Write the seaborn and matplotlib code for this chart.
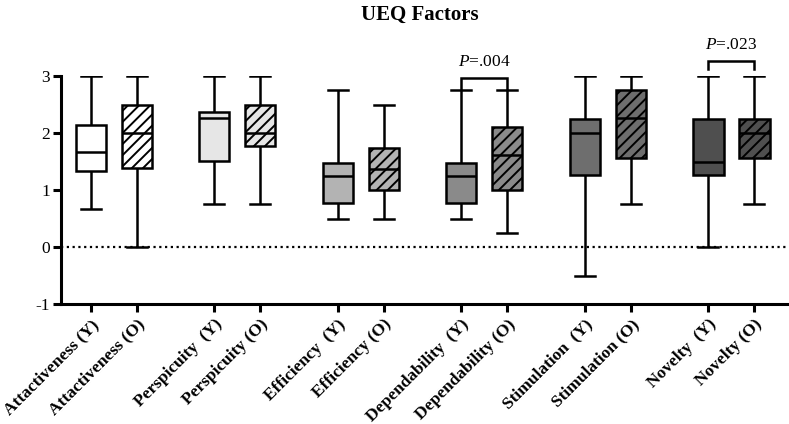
import numpy as np
import pandas as pd
import matplotlib
matplotlib.use("Agg")
import matplotlib.pyplot as plt
import seaborn as sns

# ---- data ----
labels = ["Attactiveness (Y)", "Attactiveness (O)",
          "Perspicuity  (Y)", "Perspicuity (O)",
          "Efficiency  (Y)", "Efficiency (O)",
          "Dependability  (Y)", "Dependability (O)",
          "Stimulation  (Y)", "Stimulation (O)",
          "Novelty  (Y)", "Novelty (O)"]
mins    = [0.66, 0.00, 0.75, 0.75, 0.50, 0.50, 0.50, 0.25, -0.50, 0.75, 0.00, 0.75]
q1s     = [1.34, 1.38, 1.51, 1.77, 0.77, 1.00, 0.77, 1.00, 1.26, 1.57, 1.26, 1.57]
medians = [1.66, 2.00, 2.26, 2.00, 1.25, 1.37, 1.25, 1.62, 2.00, 2.26, 1.49, 2.00]
q3s     = [2.14, 2.49, 2.36, 2.49, 1.48, 1.73, 1.48, 2.11, 2.24, 2.75, 2.24, 2.24]
maxs    = [3.00, 3.00, 3.00, 3.00, 2.75, 2.50, 2.75, 2.75, 3.00, 3.00, 3.00, 3.00]
fills   = ["#ffffff", "#ffffff", "#e6e6e6", "#e6e6e6", "#b3b3b3", "#b3b3b3",
           "#8a8a8a", "#8a8a8a", "#6e6e6e", "#6e6e6e", "#4f4f4f", "#4f4f4f"]
# significance annotations: (box index a, box index b, text)
sig_pairs = [(6, 7, ".004"), (10, 11, ".023")]

# ---- layout ----
group_step = 2.686
positions = [(i // 2) * group_step + (i % 2) for i in range(len(labels))]

rows = []
for i, lab in enumerate(labels):
    for v in (mins[i], q1s[i], medians[i], q3s[i], maxs[i]):
        rows.append({"pos": positions[i], "value": v, "label": lab})
df = pd.DataFrame(rows)

plt.rcParams["font.family"] = ["Liberation Serif", "DejaVu Serif"]
plt.rcParams["mathtext.fontset"] = "custom"
plt.rcParams["mathtext.rm"] = "Liberation Serif"
plt.rcParams["mathtext.it"] = "Liberation Serif:italic"
plt.rcParams["hatch.linewidth"] = 1.4

fig = plt.figure(figsize=(7.89, 4.24), dpi=100)
ax = fig.add_axes([61 / 789, 1 - 304 / 424, (787 - 61) / 789, (304 - 76) / 424])

sns.boxplot(data=df, x="pos", y="value", hue="label", hue_order=labels,
            palette=dict(zip(labels, fills)), saturation=1, native_scale=True,
            dodge=False, width=0.66, whis=(0, 100), linewidth=1.8,
            linecolor="black", legend=False, ax=ax)

# hatch the (O) boxes
for p in ax.patches:
    ext = p.get_path().get_extents()
    cx = (ext.x0 + ext.x1) / 2
    idx = int(np.argmin([abs(cx - q) for q in positions]))
    if idx % 2 == 1:
        p.set_hatch("///")
    p.set_edgecolor("black")

# widen the caps a bit
for ln in ax.lines:
    xd = np.asarray(ln.get_xdata(), dtype=float)
    yd = np.asarray(ln.get_ydata(), dtype=float)
    if len(xd) == 2 and yd[0] == yd[1]:
        w = abs(xd[1] - xd[0])
        if 0.2 < w < 0.5:
            c = xd.mean()
            ln.set_xdata([c - 0.215, c + 0.215])

ax.axhline(0, color="black", ls=(0, (1, 1.6)), lw=1.6, zorder=0)

# significance brackets
for a, b, t in sig_pairs:
    top = max(maxs[a], maxs[b])
    y0 = top + 0.03 if top < 3 else top + 0.12
    y1 = top + 0.22 if top < 3 else top + 0.27
    ax.plot([positions[a], positions[a], positions[b], positions[b]],
            [y0, y1, y1, y0], color="black", lw=1.8, clip_on=False,
            solid_joinstyle="miter")
    ax.text((positions[a] + positions[b]) / 2, y1 + 0.14, r"$\mathit{P}$=" + t,
            ha="center", va="bottom", fontsize=12.5, clip_on=False)

ax.set_xlim(-0.646, 15.14)
ax.set_ylim(-1, 3)
ax.set_yticks([-1, 0, 1, 2, 3])
ax.set_yticklabels(["-1", "0", "1", "2", "3"], fontsize=12.5)
ax.set_xticks(positions)
ax.set_xticklabels(labels, rotation=45, ha="right", rotation_mode="anchor",
                   fontsize=12.5, fontweight="bold")
ax.set_xlabel("")
ax.set_ylabel("")
for s in ("top", "right"):
    ax.spines[s].set_visible(False)
for s in ("left", "bottom"):
    ax.spines[s].set_linewidth(2.2)
ax.tick_params(axis="both", width=2.2, length=6, color="black", pad=2)
ax.tick_params(axis="x", pad=3)

fig.text(420 / 789, 1 - 15 / 424, "UEQ Factors", ha="center", va="center",
         fontsize=15, fontweight="bold")

fig.savefig("out.png", dpi=100)
